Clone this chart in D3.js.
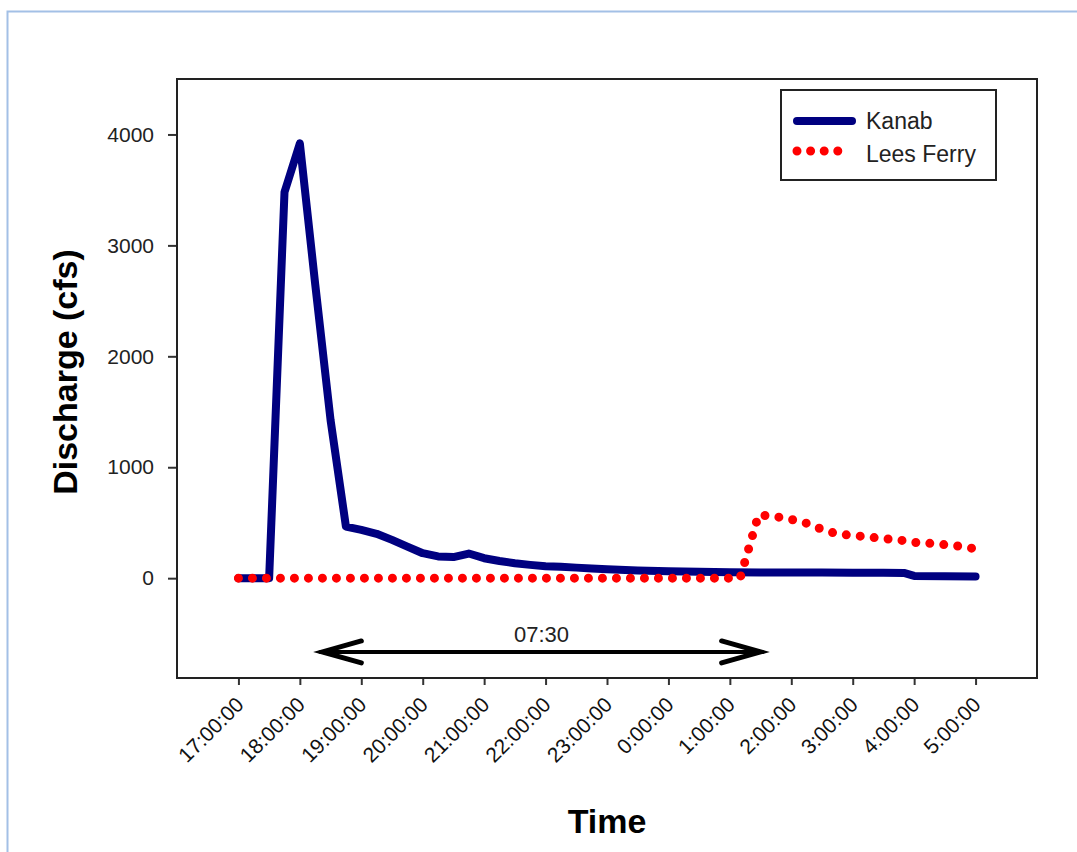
<!DOCTYPE html>
<html>
<head>
<meta charset="utf-8">
<script src="https://cdn.jsdelivr.net/npm/d3@7"></script>
<style>
  body { margin: 0; background: #fff; }
  text { font-family: "Liberation Sans", Arial, sans-serif; }
</style>
</head>
<body>
<div class="line-chart"></div>
<script>
// Kanab Creek flood pulse vs Lees Ferry gauge (cfs)
const kanabTimes = ["17:00","17:15","17:30","17:45","18:00","18:15","18:30","18:45","19:00","19:15",
    "19:30","19:45","20:00","20:15","20:30","20:45","21:00","21:15","21:30","21:45","22:00","22:15",
    "22:30","22:45","23:00","23:30","0:00","0:30","1:00","1:30","2:00","2:30","3:00","3:30","3:50",
    "4:00","4:30","5:00"]
const kanabValues = [0,0,0,3480,3920,2650,1425,465,435,400,
    345,285,225,196,190,222,180,155,135,120,108,102,
    95,88,80,70,62,58,54,52,50,50,48,48,47,
    20,17,15]

const leesTimes = ["17:00","18:00","19:00","20:00","21:00","22:00","23:00","0:00","1:00","1:10",
    "1:28","1:45","2:00","2:15","2:30","2:45","3:00","3:15","3:30","3:45","4:00","4:15","4:30",
    "4:45","5:00"]
const leesValues = [0,0,0,0,0,0,0,0,0,0,
    570,555,530,495,440,398,385,372,356,345,322,314,302,
    287,265]

const tickLabels = ["17:00:00","18:00:00","19:00:00","20:00:00","21:00:00","22:00:00","23:00:00",
    "0:00:00","1:00:00","2:00:00","3:00:00","4:00:00","5:00:00"]
const yTicks = [0, 1000, 2000, 3000, 4000]
const seriesNames = ["Kanab", "Lees Ferry"]

// travel-time arrow
const arrowStart = "18:20"
const arrowEnd = "1:32"
const arrowLevel = -665
const arrowLabel = "07:30"

const width = 1077
const height = 852
const frame = {left: 177, right: 1037, top: 79, bottom: 678}

// evening hours on day 1, early morning on day 2
const parseTime = s => {
    const [h, m] = s.split(":").map(Number)
    return new Date(2000, 0, h >= 12 ? 1 : 2, h, m)
}

const svg = d3.select(".line-chart").append("svg")
    .attr("width", width)
    .attr("height", height)

// light blue page border (top + left)
svg.append("path")
    .attr("d", `M7.5,${height} V11.5 H${width}`)
    .attr("fill", "none")
    .attr("stroke", "#a3c0e6")
    .attr("stroke-width", 2)

const xScale = d3.scaleTime()
    .domain([parseTime("16:00"), parseTime("6:00")])
    .range([frame.left, frame.right])

const yScale = d3.scaleLinear()
    .domain([-900, 4500])
    .range([frame.bottom, frame.top])

const xAxis = d3.axisBottom(xScale)
    .tickValues(tickLabels.map(parseTime))
    .tickFormat(d3.timeFormat("%-H:%M:%S"))
    .tickSize(7)
    .tickSizeOuter(0)

const yAxis = d3.axisLeft(yScale)
    .tickValues(yTicks)
    .tickFormat(d3.format("d"))
    .tickSize(9)
    .tickPadding(14)
    .tickSizeOuter(0)

const xGroup = svg.append("g")
    .attr("transform", `translate(0, ${frame.bottom})`)
    .call(xAxis)
xGroup.select(".domain").remove()
xGroup.selectAll(".tick line").attr("stroke", "#333").attr("stroke-width", 2)
xGroup.selectAll(".tick text")
    .attr("x", 0).attr("y", 0).attr("dy", 0)
    .attr("transform", "translate(6, 28) rotate(-45)")
    .style("text-anchor", "end")
    .style("font-size", "21px")
    .attr("fill", "#111")

const yGroup = svg.append("g")
    .attr("transform", `translate(${frame.left}, 0)`)
    .call(yAxis)
yGroup.select(".domain").remove()
yGroup.selectAll(".tick line").attr("stroke", "#333").attr("stroke-width", 2)
yGroup.selectAll(".tick text")
    .style("font-size", "21px")
    .attr("fill", "#222")

// plot frame
svg.append("rect")
    .attr("x", frame.left)
    .attr("y", frame.top)
    .attr("width", frame.right - frame.left)
    .attr("height", frame.bottom - frame.top)
    .attr("fill", "none")
    .attr("stroke", "#222")
    .attr("stroke-width", 2)

const line = d3.line()
    .x(d => xScale(d.t))
    .y(d => yScale(d.v))

const kanab = kanabTimes.map((t, i) => ({t: parseTime(t), v: kanabValues[i]}))
const lees = leesTimes.map((t, i) => ({t: parseTime(t), v: leesValues[i]}))

svg.append("path")
    .datum(kanab)
    .attr("d", line)
    .attr("fill", "none")
    .attr("stroke", "#000080")
    .attr("stroke-width", 8)
    .attr("stroke-linejoin", "round")
    .attr("stroke-linecap", "round")

svg.append("path")
    .datum(lees)
    .attr("d", line)
    .attr("fill", "none")
    .attr("stroke", "#ff0000")
    .attr("stroke-width", 9)
    .attr("stroke-linecap", "round")
    .attr("stroke-dasharray", "0 14")

// arrow
const ay = yScale(arrowLevel)
const ax1 = xScale(parseTime(arrowStart))
const ax2 = xScale(parseTime(arrowEnd))
const arrow = svg.append("g")
    .attr("fill", "none")
    .attr("stroke", "#000")
    .attr("stroke-linecap", "round")
arrow.append("line")
    .attr("x1", ax1).attr("x2", ax2)
    .attr("y1", ay).attr("y2", ay)
    .attr("stroke-width", 4)
arrow.append("path")
    .attr("d", `M${ax1 + 41},${ay - 11} L${ax1 + 2},${ay} L${ax1 + 41},${ay + 11}`)
    .attr("stroke-width", 5)
    .attr("stroke-linejoin", "miter")
arrow.append("path")
    .attr("d", `M${ax2 - 41},${ay - 11} L${ax2 - 2},${ay} L${ax2 - 41},${ay + 11}`)
    .attr("stroke-width", 5)
    .attr("stroke-linejoin", "miter")
svg.append("text")
    .attr("x", (ax1 + ax2) / 2)
    .attr("y", ay - 10)
    .style("text-anchor", "middle")
    .style("font-size", "22px")
    .attr("fill", "#222")
    .text(arrowLabel)

// legend
const legend = svg.append("g")
legend.append("rect")
    .attr("x", 781).attr("y", 90)
    .attr("width", 215).attr("height", 90)
    .attr("fill", "#fff")
    .attr("stroke", "#222")
    .attr("stroke-width", 2)
legend.append("line")
    .attr("x1", 797).attr("x2", 852)
    .attr("y1", 121).attr("y2", 121)
    .attr("stroke", "#000080")
    .attr("stroke-width", 8)
    .attr("stroke-linecap", "round")
legend.append("line")
    .attr("x1", 797).attr("x2", 838)
    .attr("y1", 151).attr("y2", 151)
    .attr("stroke", "#ff0000")
    .attr("stroke-width", 9)
    .attr("stroke-linecap", "round")
    .attr("stroke-dasharray", "0 13.6")
legend.selectAll(".legend-label")
    .data(seriesNames)
    .join("text")
    .attr("class", "legend-label")
    .attr("x", 866)
    .attr("y", (d, i) => 129 + i * 33)
    .style("font-size", "23px")
    .attr("fill", "#222")
    .text(d => d)

// axis titles
svg.append("text")
    .attr("x", (frame.left + frame.right) / 2)
    .attr("y", 833)
    .style("text-anchor", "middle")
    .style("font-size", "34px")
    .style("font-weight", "bold")
    .attr("fill", "#000")
    .text("Time")

svg.append("text")
    .attr("transform", "translate(77, 372) rotate(-90)")
    .style("text-anchor", "middle")
    .style("font-size", "34px")
    .style("font-weight", "bold")
    .attr("fill", "#000")
    .text("Discharge (cfs)")
</script>
</body>
</html>
